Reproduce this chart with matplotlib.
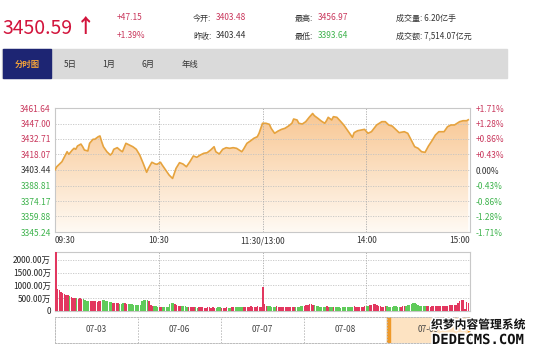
import numpy as np
import matplotlib
matplotlib.use('Agg')
import matplotlib.pyplot as plt
import matplotlib.patheffects as pe
from matplotlib.colors import LinearSegmentedColormap
from matplotlib.patches import Rectangle

plt.rcParams['font.family'] = ['Noto Sans CJK SC', 'DejaVu Sans']

# 分时数据 (分钟序号, 点位)
minutes = [0, 1, 4, 6, 7, 8, 10, 11, 12, 13, 15, 16, 17, 19, 20, 22, 23, 25, 26, 27,
           28, 30, 31, 32, 33, 34, 36, 38, 39, 41, 43, 45, 47, 49, 51, 53, 54, 56, 58, 59,
           61, 62, 64, 66, 68, 70, 72, 74, 76, 78, 80, 82, 84, 86, 88, 90, 92, 93, 95, 97,
           99, 101, 103, 105, 108, 109, 111, 113, 115, 117, 118, 119, 120, 122, 124, 125, 127, 129, 131, 133,
           135, 137, 138, 140, 141, 143, 145, 147, 149, 150, 152, 154, 156, 157, 158, 160, 161, 163, 165, 167,
           169, 172, 173, 175, 177, 179, 181, 183, 186, 189, 191, 193, 195, 197, 199, 202, 204, 206, 208, 210,
           212, 214, 216, 218, 220, 222, 225, 227, 229, 231, 234, 236, 238, 239]
prices = [3403.48, 3406.5, 3411.2, 3417.5, 3420.6, 3418.2, 3422.2, 3423.8, 3422.9, 3426.0,
          3427.8, 3425.3, 3422.2, 3421.3, 3428.5, 3432.3, 3432.3, 3434.7, 3435.4, 3430.0,
          3425.3, 3420.6, 3419.1, 3417.5, 3419.1, 3422.9, 3424.4, 3421.6, 3420.6, 3428.5,
          3426.9, 3425.3, 3422.9, 3417.5, 3409.7, 3401.3, 3405.0, 3410.7, 3409.1, 3408.8,
          3410.7, 3408.1, 3403.4, 3398.7, 3395.5, 3405.0, 3410.3, 3409.1, 3406.5, 3411.2,
          3416.6, 3415.4, 3417.5, 3419.1, 3419.7, 3422.2, 3425.3, 3420.6, 3418.5, 3422.9,
          3424.4, 3423.8, 3424.4, 3423.8, 3420.6, 3422.9, 3428.5, 3430.7, 3433.2, 3434.7,
          3437.9, 3442.6, 3447.3, 3447.3, 3446.3, 3442.6, 3437.9, 3440.0, 3441.6, 3442.6,
          3444.7, 3447.3, 3451.3, 3450.4, 3447.3, 3446.6, 3448.8, 3452.9, 3456.5, 3454.4,
          3452.0, 3449.4, 3447.3, 3449.7, 3452.9, 3450.4, 3453.5, 3452.9, 3449.4, 3445.7,
          3441.0, 3434.1, 3438.5, 3440.3, 3441.0, 3441.6, 3437.9, 3439.4, 3445.7, 3448.8,
          3448.8, 3445.7, 3444.7, 3441.6, 3438.5, 3439.4, 3437.9, 3431.6, 3425.3, 3423.8,
          3420.6, 3420.0, 3426.0, 3430.9, 3436.3, 3439.4, 3439.4, 3444.1, 3445.7, 3445.7,
          3448.8, 3449.7, 3449.7, 3450.59]

# 成交量 (万), 每分钟一根
volumes = [2300, 880, 820, 760, 700, 680, 640, 620, 600, 560, 520, 510, 500, 480, 500, 470, 460, 420, 400, 390,
           380, 400, 390, 380, 370, 390, 380, 420, 440, 400, 380, 360, 350, 320, 300, 310, 300, 280, 290, 300,
           310, 290, 280, 270, 260, 250, 240, 230, 240, 250, 380, 420, 430, 440, 400, 250, 200, 190, 180, 170,
           170, 160, 150, 160, 170, 160, 260, 300, 310, 280, 220, 200, 190, 180, 200, 180, 170, 150, 140, 160,
           150, 140, 130, 150, 160, 140, 130, 120, 140, 150, 130, 140, 120, 130, 150, 140, 130, 120, 130, 140,
           120, 130, 140, 150, 160, 150, 140, 160, 170, 160, 150, 170, 160, 180, 170, 160, 170, 180, 170, 170,
           950, 260, 200, 190, 180, 170, 160, 170, 180, 160, 150, 170, 160, 150, 140, 160, 170, 150, 140, 160,
           170, 160, 180, 200, 190, 220, 240, 260, 270, 250, 220, 200, 180, 170, 160, 150, 170, 180, 160, 150,
           140, 160, 170, 150, 140, 130, 150, 160, 170, 150, 140, 160, 170, 180, 160, 150, 140, 160, 170, 180,
           190, 200, 220, 250, 270, 260, 240, 200, 180, 170, 160, 180, 190, 170, 160, 170, 180, 190, 170, 160,
           170, 180, 190, 200, 220, 240, 280, 300, 310, 280, 240, 200, 190, 180, 200, 190, 180, 170, 190, 200,
           210, 200, 190, 180, 200, 210, 200, 190, 230, 240, 240, 230, 250, 300, 380, 420, 430, 80, 350, 330]

price_ticks = [3345.24, 3359.88, 3374.17, 3388.81, 3403.44, 3418.07, 3432.71, 3447.00, 3461.64]
pct_labels = ['-1.71%', '-1.28%', '-0.86%', '-0.43%', '0.00%', '+0.43%', '+0.86%', '+1.28%', '+1.71%']
time_ticks = [0, 60, 120, 180, 240]
time_labels = ['09:30', '10:30', '11:30/13:00', '14:00', '15:00']
vol_ticks = [0, 500, 1000, 1500, 2000]
vol_labels = ['0', '500.00万', '1000.00万', '1500.00万', '2000.00万']
dates = ['07-03', '07-06', '07-07', '07-08', '07-09']
prev_close = 3403.44

RED = '#c9375c'
GREEN = '#3db34c'
DARK = '#333333'
W, H = 538, 354


def box(x0, y0, x1, y1):
    return [x0 / W, 1 - y1 / H, (x1 - x0) / W, (y1 - y0) / H]


def ftext(x, y, s, **kw):
    fig.text(x / W, 1 - y / H, s, **kw)


fig = plt.figure(figsize=(W / 100, H / 100), dpi=100)

# 顶部行情
ftext(2, 28, '3450.59', fontsize=14, color='#d2143c', va='center')
ftext(76, 27, '↑', fontsize=14, color='#d2143c', va='center', fontweight='bold')
ftext(117, 18, '+47.15', fontsize=6, color=RED, va='center')
ftext(117, 36, '+1.39%', fontsize=6, color=RED, va='center')
ftext(193, 18, '今开:', fontsize=5.8, color=DARK, va='center')
ftext(216, 18, '3403.48', fontsize=6, color=RED, va='center')
ftext(193, 36, '昨收:', fontsize=5.8, color=DARK, va='center')
ftext(216, 36, '3403.44', fontsize=6, color=DARK, va='center')
ftext(295, 18, '最高:', fontsize=5.8, color=DARK, va='center')
ftext(318, 18, '3456.97', fontsize=6, color=RED, va='center')
ftext(295, 36, '最低:', fontsize=5.8, color=DARK, va='center')
ftext(318, 36, '3393.64', fontsize=6, color=GREEN, va='center')
ftext(396, 18, '成交量: 6.20亿手', fontsize=5.8, color=DARK, va='center')
ftext(396, 36, '成交额: 7,514.07亿元', fontsize=5.8, color=DARK, va='center')

# 标签栏
fig.patches.append(Rectangle((2 / W, 1 - 78 / H), 505 / W, 29 / H, transform=fig.transFigure,
                             color='#dadada', zorder=0))
fig.patches.append(Rectangle((3 / W, 1 - 78 / H), 48 / W, 29 / H, transform=fig.transFigure,
                             color='#1d2573', zorder=1))
ftext(27, 64, '分时图', fontsize=6, color='#f2a23a', ha='center', va='center', fontweight='bold')
for x, s in zip([70, 109, 148, 190], ['5日', '1月', '6月', '年线']):
    ftext(x, 64, s, fontsize=6, color=DARK, ha='center', va='center')

# 分时走势
ax = fig.add_axes(box(55, 108, 470, 232))
ax.set_xlim(0, 240)
ax.set_ylim(price_ticks[0], price_ticks[-1])
x = np.array(minutes)
y = np.array(prices)
cmap = LinearSegmentedColormap.from_list('fill', ['#fffaf4', '#f8c58f'])
grad = np.linspace(0, 1, 256).reshape(-1, 1)
img = ax.imshow(grad, cmap=cmap, aspect='auto', origin='lower',
                extent=[0, 240, price_ticks[0], price_ticks[-1]], zorder=1)
poly = ax.fill_between(x, y, price_ticks[0], color='none', zorder=1)
img.set_clip_path(poly.get_paths()[0], transform=ax.transData)
ax.plot(x, y, color='#e6a33e', lw=1.2, zorder=3)

for v in price_ticks[1:-1]:
    ax.axhline(v, color='#c4c4c4', lw=0.6, ls=(0, (1.5, 1.5)), zorder=2)
for t in time_ticks[1:-1]:
    ax.axvline(t, color='#aaaaaa', lw=0.6, ls=(0, (1.5, 1.5)), zorder=2)
for s in ax.spines.values():
    s.set_color('#c8c8c8')
    s.set_linewidth(0.8)

ax.set_yticks(price_ticks)
ax.set_yticklabels(['%.2f' % v for v in price_ticks], fontsize=6)
ax.tick_params(axis='y', length=0, pad=3)
for lab, v in zip(ax.get_yticklabels(), price_ticks):
    lab.set_color(RED if v > prev_close else (GREEN if v < prev_close else DARK))
ax.set_xticks(time_ticks)
ax.set_xticklabels(time_labels, fontsize=6, color=DARK)
ax.tick_params(axis='x', length=0, pad=3)
xl = ax.get_xticklabels()
xl[0].set_ha('left')
xl[-1].set_ha('right')

ax2 = ax.twinx()
ax2.set_ylim(ax.get_ylim())
ax2.set_yticks(price_ticks)
ax2.set_yticklabels(pct_labels, fontsize=6)
ax2.tick_params(axis='y', length=0, pad=4)
for lab, v in zip(ax2.get_yticklabels(), price_ticks):
    lab.set_color(RED if v > prev_close else (GREEN if v < prev_close else DARK))
for s in ax2.spines.values():
    s.set_visible(False)

# 成交量
axv = fig.add_axes(box(55, 252, 470, 311))
axv.set_xlim(-0.5, 240)
axv.set_ylim(0, 2310)
mins = np.arange(len(volumes))
p = np.interp(mins, x, y)
chg = np.diff(np.concatenate([[prev_close], p]))
cols = ['#e2375f' if c >= 0 else '#5fcb5a' for c in chg]
axv.bar(mins, volumes, width=0.85, color=cols, zorder=3)
for v in vol_ticks[1:]:
    axv.axhline(v, color='#c4c4c4', lw=0.6, ls=(0, (1.5, 1.5)), zorder=1)
for t in time_ticks[1:-1]:
    axv.axvline(t, color='#aaaaaa', lw=0.6, ls=(0, (1.5, 1.5)), zorder=1)
axv.set_yticks(vol_ticks)
axv.set_yticklabels(vol_labels, fontsize=6, color='#222222')
axv.tick_params(axis='y', length=0, pad=3)
axv.set_xticks([])
for s in axv.spines.values():
    s.set_color('#c8c8c8')
    s.set_linewidth(0.8)

# 日期条
axd = fig.add_axes(box(55, 317, 470, 343))
axd.set_xlim(0, len(dates))
axd.set_ylim(0, 1)
axd.axvspan(4, 5, color='#fde3c2', zorder=0)
axd.axvspan(4, 4.035, color='#ef9a2a', zorder=1)
axd.axvspan(4.975, 5, color='#ef9a2a', zorder=1)
for i, d in enumerate(dates):
    axd.text(i + 0.5, 0.5, d, fontsize=6, color='#444444', ha='center', va='center')
    if i > 0:
        axd.axvline(i, color='#bbbbbb', lw=0.7, ls=(0, (1.5, 1.5)))
for s in axd.spines.values():
    s.set_color('#bbbbbb')
    s.set_linewidth(0.7)
    s.set_linestyle((0, (1.5, 1.5)))
axd.set_xticks([])
axd.set_yticks([])

# 水印
stroke = [pe.withStroke(linewidth=2.2, foreground='white')]
ftext(478, 325, '织梦内容管理系统', fontsize=8.5, color='#111111', ha='center', va='center',
      fontweight='bold', path_effects=stroke)
ftext(478, 340, 'DEDECMS.COM', fontsize=10, color='#111111', ha='center', va='center',
      fontweight='bold', family='DejaVu Sans Mono', path_effects=stroke)

fig.savefig('out.png', dpi=100)
